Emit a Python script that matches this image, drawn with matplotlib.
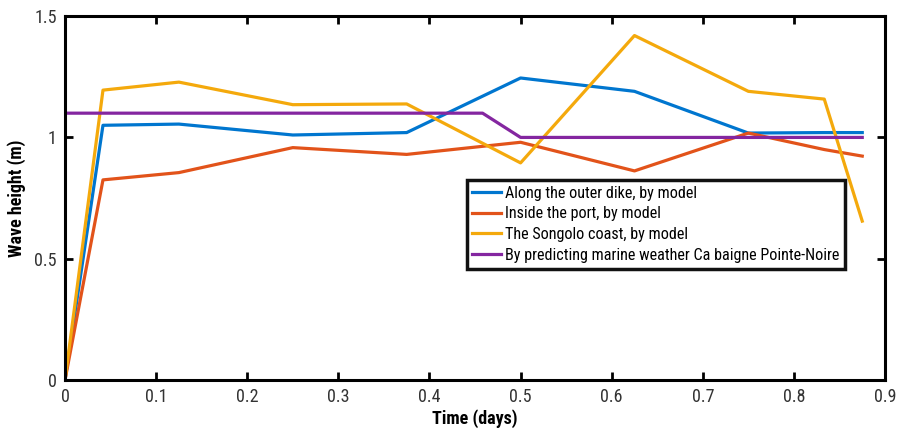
import matplotlib
matplotlib.use('Agg')
import matplotlib.pyplot as plt
from matplotlib import font_manager

# time in days
time = [0, 1 / 24, 0.125, 0.25, 0.375, 0.5, 0.625, 0.75, 0.8333, 0.875]
outer_dike = [0, 1.05, 1.055, 1.01, 1.02, 1.245, 1.19, 1.018, 1.02, 1.02]
inside_port = [0, 0.825, 0.855, 0.958, 0.93, 0.98, 0.862, 1.018, 0.95, 0.923]
songolo = [0, 1.195, 1.228, 1.135, 1.138, 0.895, 1.42, 1.19, 1.158, 0.655]
forecast_time = [0, 0.4583, 0.5, 0.875]
forecast = [1.1, 1.1, 1.0, 1.0]

labels = ['Along the outer dike, by model',
          'Inside the port, by model',
          'The Songolo coast, by model',
          'By predicting marine weather Ca baigne Pointe-Noire']
colors = ['#0076CF', '#E2531A', '#F4A90C', '#8426A0']


def narrow_font():
    # prefer a condensed sans face if one is around
    names = {f.name for f in font_manager.fontManager.ttflist}
    for name in ['Liberation Sans Narrow', 'Roboto Condensed', 'Open Sans Condensed']:
        if name in names:
            return name
    for f in font_manager.fontManager.ttflist:
        if f.fname.endswith('DejaVuSansCondensed.ttf'):
            return f.fname
    return None


narrow = narrow_font()
if narrow and narrow.endswith('.ttf'):
    reg = font_manager.FontProperties(fname=narrow)
    bold_path = narrow.replace('DejaVuSansCondensed.ttf', 'DejaVuSansCondensed-Bold.ttf')
    try:
        open(bold_path).close()
        bold = font_manager.FontProperties(fname=bold_path)
    except OSError:
        bold = font_manager.FontProperties(family='DejaVu Sans', weight='bold')
else:
    fam = narrow or 'Liberation Sans'
    reg = font_manager.FontProperties(family=fam)
    bold = font_manager.FontProperties(family=fam, weight='bold')

fig = plt.figure(figsize=(9.08, 4.36), dpi=100)
ax = fig.add_axes([0.0716, 0.1284, 0.9031, 0.8346])

ax.plot(time, outer_dike, color=colors[0], lw=2.3, label=labels[0])
ax.plot(time, inside_port, color=colors[1], lw=2.3, label=labels[1])
ax.plot(time, songolo, color=colors[2], lw=2.3, label=labels[2])
ax.plot(forecast_time, forecast, color=colors[3], lw=2.3, label=labels[3])

ax.set_xlim(0, 0.9)
ax.set_ylim(0, 1.5)
ax.set_xticks([0, 0.1, 0.2, 0.3, 0.4, 0.5, 0.6, 0.7, 0.8, 0.9])
ax.set_xticklabels(['0', '0.1', '0.2', '0.3', '0.4', '0.5', '0.6', '0.7', '0.8', '0.9'])
ax.set_yticks([0, 0.5, 1, 1.5])
ax.set_yticklabels(['0', '0.5', '1', '1.5'])
ax.tick_params(direction='in', top=True, right=True, length=6, width=2,
               labelcolor='#333333', pad=6)
for lab in ax.get_xticklabels() + ax.get_yticklabels():
    lab.set_fontproperties(reg)
    lab.set_fontsize(13)
for s in ax.spines.values():
    s.set_linewidth(2.2)

bold.set_size(13)
ax.set_xlabel('Time (days)', fontproperties=bold, labelpad=2)
ax.set_ylabel('Wave height (m)', fontproperties=bold, labelpad=6)

leg_font = reg.copy()
leg_font.set_size(11.6)
leg = ax.legend(loc='upper left', bbox_to_anchor=(0.49, 0.55), prop=leg_font,
                frameon=True, fancybox=False, edgecolor='#111111', framealpha=1,
                handlelength=1.8, handletextpad=0.2, borderpad=0.35,
                labelspacing=0.36, borderaxespad=0)
leg.get_frame().set_linewidth(2.5)

fig.savefig('out.png', dpi=100, facecolor='white')
